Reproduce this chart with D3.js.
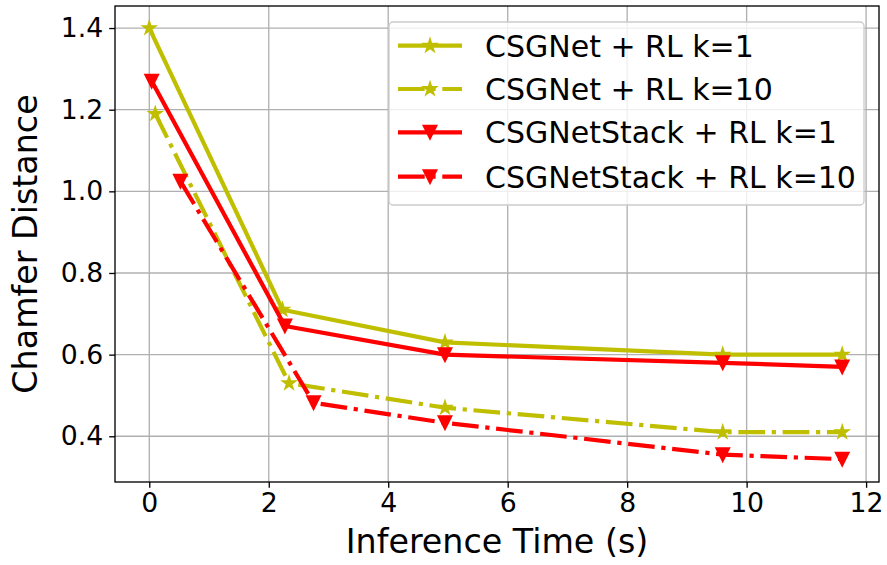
<!DOCTYPE html>
<html>
<head>
<meta charset="utf-8">
<script src="https://cdn.jsdelivr.net/npm/d3@7"></script>
<style>
  body { margin: 0; background: #fff; }
  text { font-family: "DejaVu Sans", sans-serif; }
</style>
</head>
<body>
<div id="container"></div>
<script>
// Chart data
var seriesNames = ["CSGNet + RL k=1", "CSGNet + RL k=10", "CSGNetStack + RL k=1", "CSGNetStack + RL k=10"];
var timeK1 = [0.0, 2.23, 4.95, 9.6, 11.6];
var cdK1 = [1.40, 0.71, 0.63, 0.60, 0.60];
var timeK10 = [0.1, 2.34, 4.95, 9.6, 11.6];
var cdK10 = [1.19, 0.53, 0.47, 0.41, 0.41];
var timeStackK1 = [0.04, 2.27, 4.95, 9.6, 11.6];
var cdStackK1 = [1.27, 0.67, 0.60, 0.58, 0.57];
var timeStackK10 = [0.52, 2.75, 4.95, 9.6, 11.6];
var cdStackK10 = [1.025, 0.482, 0.433, 0.355, 0.344];
var xTicks = [0, 2, 4, 6, 8, 10, 12];
var yTicks = [0.4, 0.6, 0.8, 1.0, 1.2, 1.4];

var svg_width = 887
var svg_height = 565

var svg = d3.select("#container")
    .append("svg")
    .attr("width", svg_width)
    .attr("height", svg_height)

// plot area edges
var pLeft = 115, pRight = 879, pTop = 6, pBottom = 482;

var x = d3.scaleLinear().domain([-0.574, 12.216]).range([pLeft, pRight]);
var y = d3.scaleLinear().domain([0.288, 1.454]).range([pBottom, pTop]);

var yellow = "#bfbf00", red = "#ff0000";
var lw = 4.2;
var dashDot = [26.7, 6.7, 4.2, 6.7].join(",");
var ms = 13.3;

var series = [
    {name: seriesNames[0], xs: timeK1, ys: cdK1, color: yellow, dash: null, marker: "star"},
    {name: seriesNames[1], xs: timeK10, ys: cdK10, color: yellow, dash: dashDot, marker: "star"},
    {name: seriesNames[2], xs: timeStackK1, ys: cdStackK1, color: red, dash: null, marker: "tri"},
    {name: seriesNames[3], xs: timeStackK10, ys: cdStackK10, color: red, dash: dashDot, marker: "tri"}
];

// marker paths (matplotlib-like)
function markerPath(type) {
    var r = ms / 2;
    if (type == "tri") {
        return "M0," + r + "L" + (-r) + "," + (-r) + "L" + r + "," + (-r) + "Z";
    }
    var pts = [];
    for (var i = 0; i < 10; i++) {
        var rad = (i % 2 == 0) ? r : r * 0.381966;
        var a = -Math.PI / 2 + i * Math.PI / 5;
        pts.push([rad * Math.cos(a), rad * Math.sin(a)]);
    }
    return "M" + pts.map(p => p[0].toFixed(2) + "," + p[1].toFixed(2)).join("L") + "Z";
}

// grid
var grid = svg.append("g");
grid.selectAll(".gx").data(xTicks).enter().append("line")
    .attr("x1", d => x(d)).attr("x2", d => x(d))
    .attr("y1", pTop).attr("y2", pBottom)
    .attr("stroke", "#b0b0b0").attr("stroke-width", 1.33);
grid.selectAll(".gy").data(yTicks).enter().append("line")
    .attr("x1", pLeft).attr("x2", pRight)
    .attr("y1", d => y(d)).attr("y2", d => y(d))
    .attr("stroke", "#b0b0b0").attr("stroke-width", 1.33);

// lines and markers
var line = d3.line().x(d => x(d[0])).y(d => y(d[1]));
series.forEach(function(s) {
    var pts = s.xs.map((v, i) => [v, s.ys[i]]);
    svg.append("path")
        .attr("d", line(pts))
        .attr("fill", "none")
        .attr("stroke", s.color)
        .attr("stroke-width", lw)
        .attr("stroke-linejoin", "round")
        .attr("stroke-dasharray", s.dash);
    svg.append("g").selectAll("path").data(pts).enter().append("path")
        .attr("d", markerPath(s.marker))
        .attr("transform", d => "translate(" + x(d[0]) + "," + y(d[1]) + ")")
        .attr("fill", s.color)
        .attr("stroke", s.color)
        .attr("stroke-width", 1.67)
        .attr("stroke-linejoin", "miter");
});

// axes
var xAxis = d3.axisBottom(x).tickValues(xTicks).tickSize(5.8).tickPadding(5).tickFormat(d3.format("d"));
var yAxis = d3.axisLeft(y).tickValues(yTicks).tickSize(5.8).tickPadding(6).tickFormat(d3.format(".1f"));

var gx = svg.append("g").attr("transform", "translate(0," + pBottom + ")").call(xAxis);
var gy = svg.append("g").attr("transform", "translate(" + pLeft + ",0)").call(yAxis);
[gx, gy].forEach(function(g) {
    g.select(".domain").remove();
    g.attr("font-size", null).attr("font-family", null);
    g.selectAll(".tick line").attr("stroke", "#000").attr("stroke-width", 1.33);
    g.selectAll(".tick text").attr("fill", "#000").style("font-size", "26.7px");
});

svg.append("rect")
    .attr("x", pLeft).attr("y", pTop)
    .attr("width", pRight - pLeft).attr("height", pBottom - pTop)
    .attr("fill", "none").attr("stroke", "#000").attr("stroke-width", 1.33);

// axis labels
svg.append("text")
    .attr("x", (pLeft + pRight) / 2).attr("y", 553)
    .attr("text-anchor", "middle")
    .style("font-size", "33.3px")
    .text("Inference Time (s)");
svg.append("text")
    .attr("transform", "translate(37," + ((pTop + pBottom) / 2) + ") rotate(-90)")
    .attr("text-anchor", "middle")
    .style("font-size", "33.3px")
    .text("Chamfer Distance");

// legend
var legend = svg.append("g");
legend.append("rect")
    .attr("x", 389).attr("y", 22).attr("width", 475).attr("height", 183)
    .attr("rx", 4)
    .attr("fill", "#fff").attr("fill-opacity", 0.8)
    .attr("stroke", "#cccccc").attr("stroke-width", 1.33);
var rowY = [45.7, 89, 132.3, 176.7];
series.forEach(function(s, i) {
    var ly = rowY[i];
    legend.append("line")
        .attr("x1", 398).attr("x2", 462).attr("y1", ly).attr("y2", ly)
        .attr("stroke", s.color).attr("stroke-width", lw)
        .attr("stroke-dasharray", s.dash);
    legend.append("path")
        .attr("d", markerPath(s.marker))
        .attr("transform", "translate(430," + ly + ")")
        .attr("fill", s.color).attr("stroke", s.color).attr("stroke-width", 1.67);
    legend.append("text")
        .attr("x", 485).attr("y", ly + 11)
        .style("font-size", "30px")
        .text(s.name);
});
</script>
</body>
</html>
